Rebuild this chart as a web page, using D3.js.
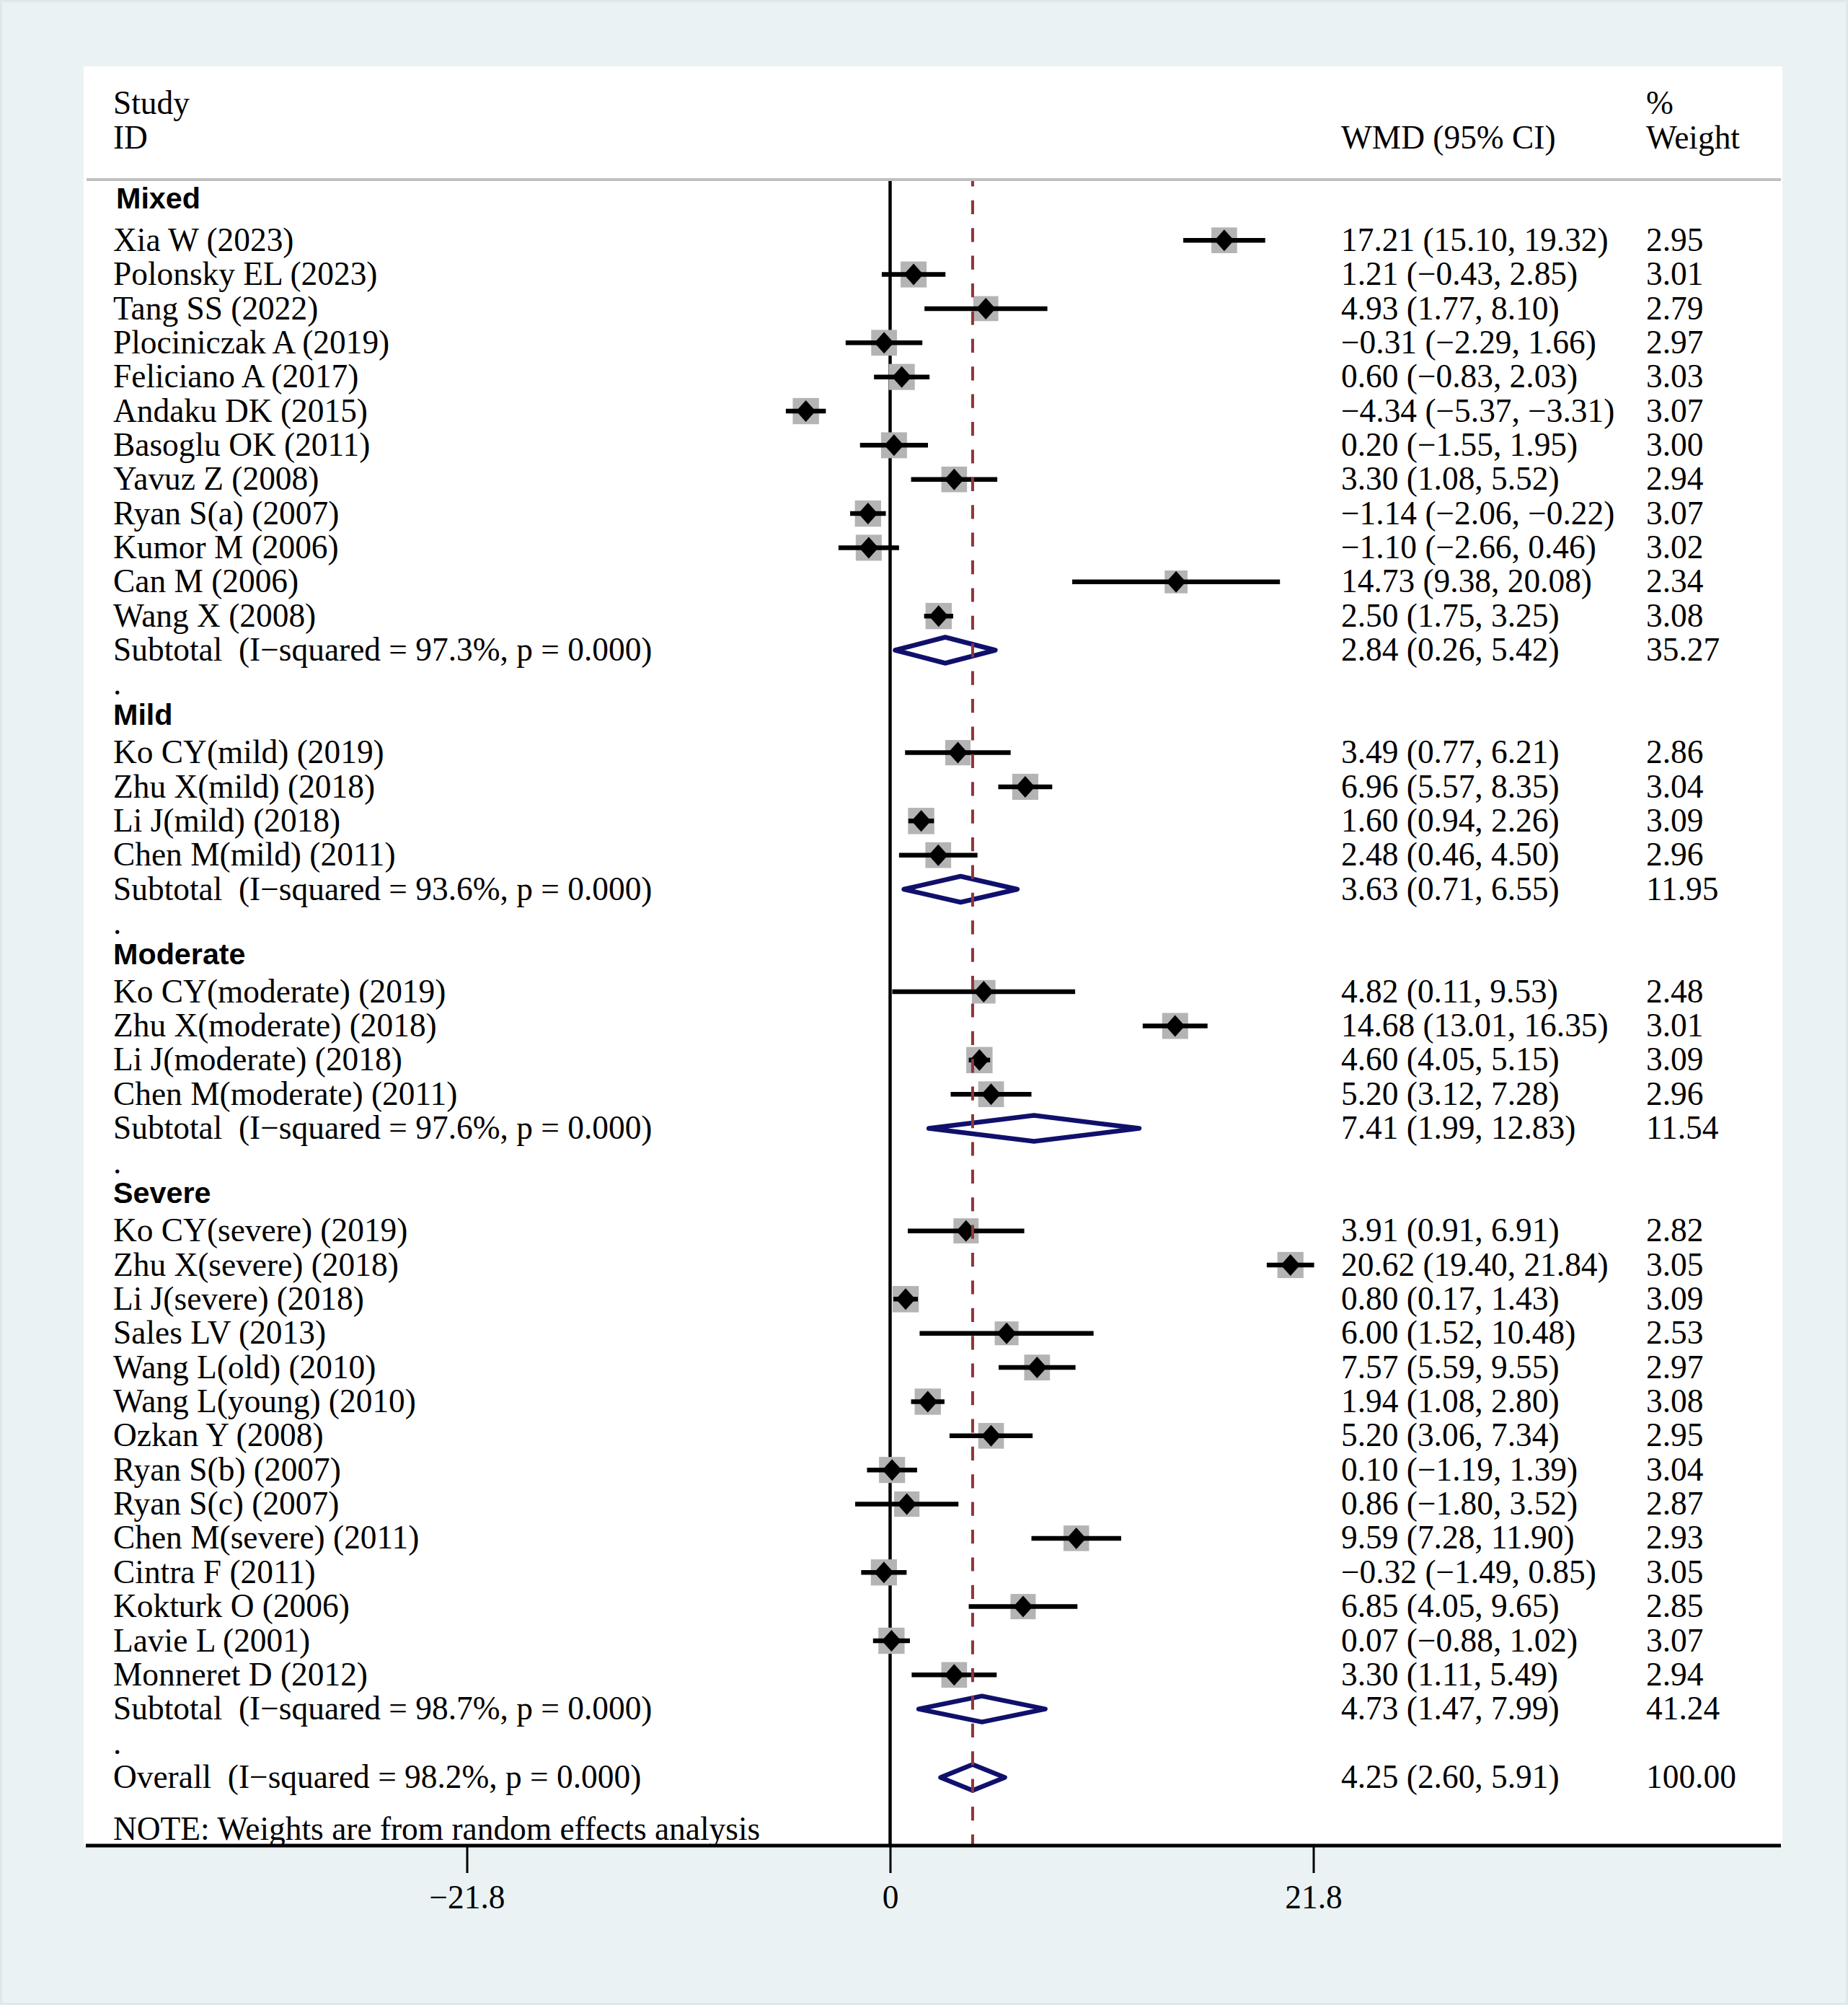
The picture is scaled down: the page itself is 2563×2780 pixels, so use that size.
<!DOCTYPE html>
<html>
<head>
<meta charset="utf-8">
<script src="https://cdn.jsdelivr.net/npm/d3@7"></script>
<style>
  html, body { margin: 0; padding: 0; background: #eaf2f3; }
  svg { display: block; }
  text { white-space: pre; }
</style>
</head>
<body>
<script>
// ---------------- data ----------------
const groups = ["Mixed", "Mild", "Moderate", "Severe"];
const groupSizes = [12, 4, 4, 14];

const studyLabels = [
  "Xia W (2023)", "Polonsky EL (2023)", "Tang SS (2022)", "Plociniczak A (2019)",
  "Feliciano A (2017)", "Andaku DK (2015)", "Basoglu OK (2011)", "Yavuz Z (2008)",
  "Ryan S(a) (2007)", "Kumor M (2006)", "Can M (2006)", "Wang X (2008)",
  "Ko CY(mild) (2019)", "Zhu X(mild) (2018)", "Li J(mild) (2018)", "Chen M(mild) (2011)",
  "Ko CY(moderate) (2019)", "Zhu X(moderate) (2018)", "Li J(moderate) (2018)", "Chen M(moderate) (2011)",
  "Ko CY(severe) (2019)", "Zhu X(severe) (2018)", "Li J(severe) (2018)", "Sales LV (2013)",
  "Wang L(old) (2010)", "Wang L(young) (2010)", "Ozkan Y (2008)", "Ryan S(b) (2007)",
  "Ryan S(c) (2007)", "Chen M(severe) (2011)", "Cintra F (2011)", "Kokturk O (2006)",
  "Lavie L (2001)", "Monneret D (2012)"
];
const effects = [17.21, 1.21, 4.93, -0.31, 0.60, -4.34, 0.20, 3.30, -1.14, -1.10, 14.73, 2.50,
  3.49, 6.96, 1.60, 2.48,
  4.82, 14.68, 4.60, 5.20,
  3.91, 20.62, 0.80, 6.00, 7.57, 1.94, 5.20, 0.10, 0.86, 9.59, -0.32, 6.85, 0.07, 3.30];
const lower = [15.10, -0.43, 1.77, -2.29, -0.83, -5.37, -1.55, 1.08, -2.06, -2.66, 9.38, 1.75,
  0.77, 5.57, 0.94, 0.46,
  0.11, 13.01, 4.05, 3.12,
  0.91, 19.40, 0.17, 1.52, 5.59, 1.08, 3.06, -1.19, -1.80, 7.28, -1.49, 4.05, -0.88, 1.11];
const upper = [19.32, 2.85, 8.10, 1.66, 2.03, -3.31, 1.95, 5.52, -0.22, 0.46, 20.08, 3.25,
  6.21, 8.35, 2.26, 4.50,
  9.53, 16.35, 5.15, 7.28,
  6.91, 21.84, 1.43, 10.48, 9.55, 2.80, 7.34, 1.39, 3.52, 11.90, 0.85, 9.65, 1.02, 5.49];
const weights = [2.95, 3.01, 2.79, 2.97, 3.03, 3.07, 3.00, 2.94, 3.07, 3.02, 2.34, 3.08,
  2.86, 3.04, 3.09, 2.96,
  2.48, 3.01, 3.09, 2.96,
  2.82, 3.05, 3.09, 2.53, 2.97, 3.08, 2.95, 3.04, 2.87, 2.93, 3.05, 2.85, 3.07, 2.94];

const subI2 = [97.3, 93.6, 97.6, 98.7];
const subP = ["0.000", "0.000", "0.000", "0.000"];
const subEffects = [2.84, 3.63, 7.41, 4.73];
const subLower = [0.26, 0.71, 1.99, 1.47];
const subUpper = [5.42, 6.55, 12.83, 7.99];
const subWeights = [35.27, 11.95, 11.54, 41.24];

const overallI2 = 98.2;
const overallP = "0.000";
const overallEffect = 4.25;
const overallLower = 2.60;
const overallUpper = 5.91;
const overallWeight = 100.00;

const tickValues = [-21.8, 0, 21.8];
const tickLabels = ["\u221221.8", "0", "21.8"];

// ---------------- layout ----------------
const W = 2563, H = 2780;
const serif = "'Liberation Serif', 'Times New Roman', serif";
const sans = "'Liberation Sans', Arial, sans-serif";
const fs = 45.4;
const capHalf = 14.6;

const fmt = v => d3.format(".2f")(v).replace("-", "\u2212");
const ciText = (e, l, u) => `${fmt(e)} (${fmt(l)}, ${fmt(u)})`;

// build rows
const rows = [];
let r = 0, si = 0;
groups.forEach((g, gi) => {
  rows.push({ type: "head", label: g, row: r++, gi });
  for (let k = 0; k < groupSizes[gi]; k++, si++) {
    rows.push({ type: "study", label: studyLabels[si], row: r++, es: effects[si], lo: lower[si], hi: upper[si], w: weights[si] });
  }
  rows.push({ type: "sub", label: `Subtotal  (I\u2212squared = ${subI2[gi]}%, p = ${subP[gi]})`, row: r++,
    es: subEffects[gi], lo: subLower[gi], hi: subUpper[gi], w: subWeights[gi] });
  rows.push({ type: "dot", label: ".", row: r++ });
});
rows.push({ type: "sub", label: `Overall  (I\u2212squared = ${overallI2}%, p = ${overallP})`, row: r,
  es: overallEffect, lo: overallLower, hi: overallUpper, w: overallWeight, overall: true });
const nRows = r;

const x = d3.scaleLinear().domain([-21.8, 21.8]).range([647.5, 1821.5]);
const y = d3.scaleLinear().domain([0, nRows]).range([285.84, 285.84 + nRows * 47.36]);
const sq = d3.scaleSqrt().domain([0, 3.01]).range([0, 36]);

const panel = { x0: 116, y0: 92, x1: 2472, y1: 2559 };
const headerLineY = 249;
const axisY = 2559;
const labelX = 157;
const ciX = 1860;
const wX = 2283;

const svg = d3.select("body").append("svg").attr("width", W).attr("height", H);

svg.append("rect").attr("x", 0).attr("y", 0).attr("width", W).attr("height", H).attr("fill", "#eaf2f3");
svg.append("rect").attr("x", 1.5).attr("y", 1.5).attr("width", W - 3).attr("height", H - 3)
  .attr("fill", "none").attr("stroke", "#dfe8ea").attr("stroke-width", 3);
svg.append("rect").attr("x", panel.x0).attr("y", panel.y0)
  .attr("width", panel.x1 - panel.x0).attr("height", panel.y1 - panel.y0).attr("fill", "#ffffff");

// header
const hdr = svg.append("g").attr("font-family", serif).attr("font-size", fs).attr("fill", "#000");
hdr.append("text").attr("x", labelX).attr("y", 143.6 + capHalf).text("Study");
hdr.append("text").attr("x", labelX).attr("y", 191.4 + capHalf).text("ID");
hdr.append("text").attr("x", ciX).attr("y", 191.4 + capHalf).text("WMD (95% CI)");
hdr.append("text").attr("x", wX).attr("y", 143.6 + capHalf).text("%");
hdr.append("text").attr("x", wX).attr("y", 191.4 + capHalf).text("Weight");

svg.append("line").attr("x1", 120).attr("x2", 2470).attr("y1", headerLineY).attr("y2", headerLineY)
  .attr("stroke", "#c0c0c0").attr("stroke-width", 4);

// null line
svg.append("line").attr("x1", x(0)).attr("x2", x(0)).attr("y1", headerLineY + 2).attr("y2", axisY)
  .attr("stroke", "#000").attr("stroke-width", 4.5);

const studies = rows.filter(d => d.type === "study");
const subs = rows.filter(d => d.type === "sub");

// weight squares
svg.append("g").selectAll("rect").data(studies).join("rect")
  .attr("x", d => x(d.es) - sq(d.w) / 2).attr("y", d => y(d.row) - sq(d.w) / 2)
  .attr("width", d => sq(d.w)).attr("height", d => sq(d.w))
  .attr("fill", "#b4b4b4");

// CI lines
svg.append("g").selectAll("line").data(studies).join("line")
  .attr("x1", d => x(d.lo)).attr("x2", d => x(d.hi))
  .attr("y1", d => y(d.row)).attr("y2", d => y(d.row))
  .attr("stroke", "#000").attr("stroke-width", 6.5);

// point diamonds
svg.append("g").selectAll("path").data(studies).join("path")
  .attr("d", d => {
    const cx = x(d.es), cy = y(d.row), hw = 13.5, hh = 15;
    return `M${cx - hw},${cy}L${cx},${cy - hh}L${cx + hw},${cy}L${cx},${cy + hh}Z`;
  })
  .attr("fill", "#000");

// pooled diamonds
svg.append("g").selectAll("path").data(subs).join("path")
  .attr("d", d => {
    const cy = y(d.row), hh = 18;
    return `M${x(d.lo)},${cy}L${x(d.es)},${cy - hh}L${x(d.hi)},${cy}L${x(d.es)},${cy + hh}Z`;
  })
  .attr("fill", "none").attr("stroke", "#10106c").attr("stroke-width", 6.5)
  .attr("stroke-linejoin", "round");

// overall effect dashed line
svg.append("line").attr("x1", x(overallEffect)).attr("x2", x(overallEffect))
  .attr("y1", headerLineY + 2).attr("y2", axisY - 2)
  .attr("stroke", "#90353b").attr("stroke-width", 4)
  .attr("stroke-dasharray", "19.2,19.2").attr("stroke-dashoffset", 11.6);

// left labels
const txt = svg.append("g").attr("font-family", serif).attr("font-size", fs).attr("fill", "#000");
txt.selectAll("text.lab").data(rows.filter(d => d.type !== "head")).join("text")
  .attr("class", "lab").attr("x", labelX).attr("y", d => y(d.row) + capHalf).text(d => d.label);

// group headings
svg.append("g").selectAll("text").data(rows.filter(d => d.type === "head")).join("text")
  .attr("x", d => d.gi === 0 ? 161 : 157)
  .attr("y", d => y(d.row) + (d.gi === 0 ? -11.2 : -5.5) + 14.7)
  .attr("font-family", sans).attr("font-weight", "bold").attr("font-size", 41.3).attr("fill", "#000")
  .text(d => d.label);

// CI text and weights
const valRows = rows.filter(d => d.type === "study" || d.type === "sub");
txt.selectAll("text.ci").data(valRows).join("text")
  .attr("class", "ci").attr("x", ciX).attr("y", d => y(d.row) + capHalf).text(d => ciText(d.es, d.lo, d.hi));
txt.selectAll("text.w").data(valRows).join("text")
  .attr("class", "w").attr("x", wX).attr("y", d => y(d.row) + capHalf).text(d => d3.format(".2f")(d.w));

// note
txt.append("text").attr("x", labelX).attr("y", 2536.5 + capHalf).text("NOTE: Weights are from random effects analysis");

// axis
svg.append("line").attr("x1", 119).attr("x2", 2470).attr("y1", axisY).attr("y2", axisY)
  .attr("stroke", "#000").attr("stroke-width", 5);
const axis = d3.axisBottom(x).tickValues(tickValues).tickFormat((d, i) => tickLabels[i])
  .tickSizeInner(38).tickSizeOuter(0).tickPadding(10);
const ag = svg.append("g").attr("transform", `translate(0,${axisY})`).call(axis);
ag.select(".domain").remove();
ag.selectAll(".tick line").attr("stroke", "#000").attr("stroke-width", 3);
ag.selectAll(".tick text").attr("font-family", serif).attr("font-size", fs).attr("fill", "#000")
  .attr("dy", null).attr("y", 2646 - axisY);
</script>
</body>
</html>
